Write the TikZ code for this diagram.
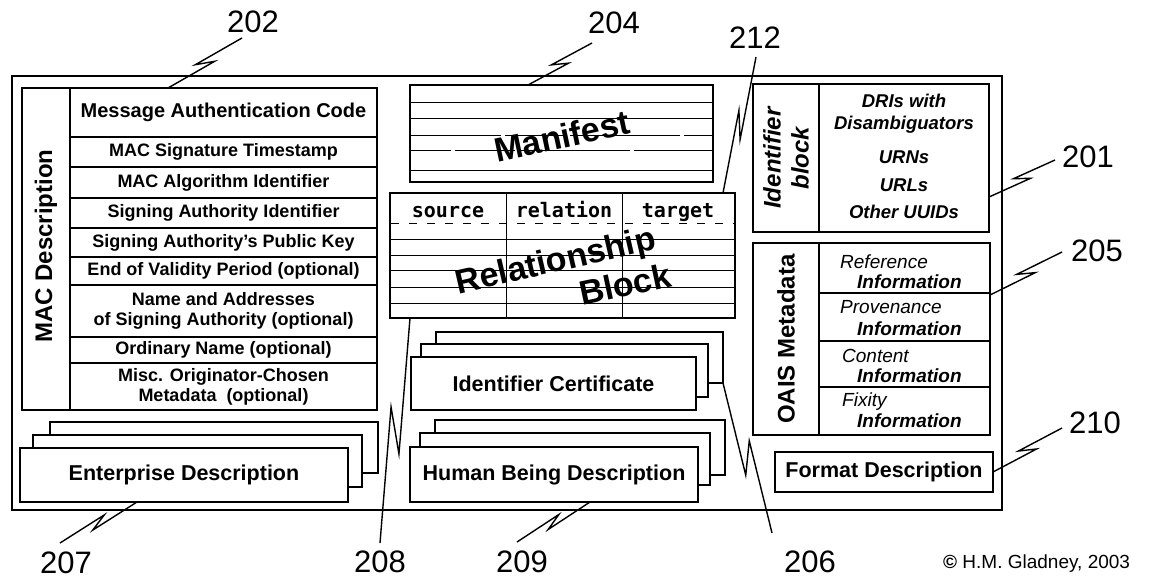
\documentclass[tikz,border=0pt]{standalone}
\usepackage{fontspec}
\setmainfont{Liberation Sans}
\newfontfamily\relmono{DejaVu Sans Mono}
\usetikzlibrary{calc}
\newcommand\rectnode[6]{\node[#1, anchor=north west, minimum width={#4-#2}, minimum height={#5-#3}] (#6) at (#2,#3)}
\newcommand\fs[2]{\fontsize{#1}{#2}\selectfont}
\begin{document}
\begin{tikzpicture}[x=1pt,y=-1pt,
  outerframe/.style={draw, line width=2.8pt, inner sep=0pt, outer sep=0pt},
  thick/.style={draw, line width=2.6pt, inner sep=0pt, outer sep=0pt},
  box/.style={thick, fill=white, font=\bfseries\fs{21.5}{24}},
  cell/.style={draw, line width=1.3pt, inner sep=0pt, outer sep=0pt, align=center, font=\bfseries\fs{18}{20}},
  ocell/.style={draw, line width=2pt, inner sep=0pt, outer sep=0pt},
  rule/.style={line width=1pt},
  drule/.style={line width=1pt, dash pattern=on 90pt off 4pt on 60pt off 5pt on 110pt off 4pt},
  big/.style={font=\bfseries\fs{34}{36}, inner sep=0pt},
  vlab/.style={rotate=90, font=\bfseries\fs{24}{28}, inner sep=0pt, align=center},
  ital/.style={font=\bfseries\itshape\fs{18.5}{22}, inner sep=0pt, align=center},
  oit/.style={font=\itshape\fs{19}{22}, inner sep=0pt, anchor=base west},
  oib/.style={font=\bfseries\itshape\fs{19}{22}, inner sep=0pt, anchor=base west},
  mono/.style={font=\relmono\bfseries\fs{20}{22}, inner sep=0pt, anchor=base},
  num/.style={font=\fs{31}{31}, inner sep=0pt},
  lead/.style={line width=1.4pt},
  zig/.style={to path={-- ($(\tikztostart)!0.6!(\tikztotarget)!#1!90:(\tikztotarget)$) -- ($(\tikztostart)!0.4!(\tikztotarget)!#1!-90:(\tikztotarget)$) -- (\tikztotarget)}},
]
\useasboundingbox (0,0) rectangle (1164,579);

% outer frame
\rectnode{outerframe}{12}{76}{1002}{510}{outer}{};

% MAC description
\rectnode{cell, font=\bfseries\fs{20}{22}}{70}{88}{377}{137}{mac1}{Message Authentication Code};
\rectnode{cell}{70}{137}{377}{167}{mac2}{MAC Signature Timestamp};
\rectnode{cell}{70}{167}{377}{198}{mac3}{MAC Algorithm Identifier};
\rectnode{cell}{70}{198}{377}{228}{mac4}{Signing Authority Identifier};
\rectnode{cell}{70}{228}{377}{257}{mac5}{Signing Authority’s Public Key};
\rectnode{cell}{70}{257}{377}{285}{mac6}{End of Validity Period (optional)};
\rectnode{cell}{70}{285}{377}{337}{mac7}{Name and Addresses\\of Signing Authority (optional)};
\rectnode{cell}{70}{337}{377}{363}{mac8}{Ordinary Name (optional)};
\rectnode{cell}{70}{363}{377}{410}{mac9}{Misc. Originator-Chosen\\Metadata\ \ (optional)};
\rectnode{thick}{22}{88}{70}{410}{macl}{};
\rectnode{thick}{22}{88}{377}{410}{mac}{};
\node[vlab] (mactitle) at (46,246) {MAC Description};

% Enterprise stack
\rectnode{box}{50}{422}{378}{473}{ent3}{};
\rectnode{box}{33}{435}{362}{487}{ent2}{};
\rectnode{box}{20}{448}{348}{502}{ent}{Enterprise Description};

% Manifest
\rectnode{thick}{410}{85}{713}{182}{man}{};
\draw[rule] (411,102) -- (712,102);
\draw[rule] (411,118) -- (712,118);
\draw[drule] (411,135) -- (712,135);
\draw[drule, dash phase=50pt] (411,150) -- (712,150);
\draw[rule] (411,170) -- (712,170);
\node[big, rotate=12] (manifest) at (562,136) {Manifest};

% Relationship block
\rectnode{thick}{390}{193}{735}{318}{rel}{};
\draw[rule] (506,194) -- (506,317);
\draw[rule] (622,194) -- (622,317);
\draw[rule, dash pattern=on 8pt off 10pt] (391,223) -- (734,223);
\foreach \yy in {239,255,270,287,303} \draw[rule] (391,\yy) -- (734,\yy);
\node[mono] (src) at (448,217) {source};
\node[mono] (rln) at (564,217) {relation};
\node[mono] (tgt) at (678,217) {target};
\node[big, rotate=13] (relw) at (556,263) {Relationship};
\node[big, rotate=12] (blockw) at (625,284) {Block};

% Identifier certificate stack
\rectnode{box}{436}{332}{723}{383}{ic3}{};
\rectnode{box}{421}{344}{708}{397}{ic2}{};
\rectnode{box}{411}{357}{696}{410}{ic}{Identifier Certificate};

% Human being stack
\rectnode{box}{435}{420}{725}{475}{hb3}{};
\rectnode{box}{420}{433}{710}{485}{hb2}{};
\rectnode{box}{410}{447}{698}{502}{hum}{Human Being Description};

% Identifier block
\rectnode{thick}{819}{84}{989}{232}{idr}{};
\rectnode{thick}{753}{84}{819}{232}{idl}{};
\node[vlab, font=\bfseries\itshape\fs{24}{28}] (idt) at (786,158) {Identifier\\block};
\node[ital] (dri) at (904,114) {DRIs with\\Disambiguators};
\node[ital] (urn) at (904,157) {URNs};
\node[ital] (url) at (904,185) {URLs};
\node[ital] (uuid) at (904,212) {Other UUIDs};

% OAIS metadata
\rectnode{ocell}{819}{243}{990}{293}{o1}{};
\rectnode{ocell}{819}{293}{990}{341}{o2}{};
\rectnode{ocell}{819}{341}{990}{387}{o3}{};
\rectnode{ocell}{819}{387}{990}{435}{o4}{};
\rectnode{thick}{753}{243}{819}{435}{oaisl}{};
\rectnode{thick}{753}{243}{990}{435}{oais}{};
\node[vlab] (oaist) at (786,339) {OAIS Metadata};
\node[oit] (t1) at (840,268) {Reference};
\node[oib] (i1) at (857,288) {Information};
\node[oit] (t2) at (840,313) {Provenance};
\node[oib] (i2) at (857,335) {Information};
\node[oit] (t3) at (842,362) {Content};
\node[oib] (i3) at (857,382) {Information};
\node[oit] (t4) at (842,406) {Fixity};
\node[oib] (i4) at (857,427) {Information};

% Format description
\rectnode{box}{775}{452}{993}{492}{fmt}{Format Description};

% reference numerals
\node[num] (n202) at (253,22) {202};
\node[num] (n204) at (614,23) {204};
\node[num] (n212) at (755,38) {212};
\node[num] (n201) at (1088,157) {201};
\node[num] (n205) at (1097,251) {205};
\node[num] (n210) at (1095,423) {210};
\node[num] (n207) at (66,563) {207};
\node[num] (n208) at (380,562) {208};
\node[num] (n209) at (522,562) {209};
\node[num] (n206) at (810,562) {206};
\node[font=\fs{19}{19}, anchor=base west, inner sep=0pt] (copy) at (943,568) {\textbf{©} H.M. Gladney, 2003};

% leader lines
\coordinate (s202) at (242,38);
\coordinate (s204) at (592,43);
\coordinate (s212) at (756,57);
\coordinate (s201) at (1055,160);
\coordinate (s205) at (1062,252);
\coordinate (s210) at (1062,428);
\coordinate (s207) at (60,543);
\coordinate (s208) at (380,543);
\coordinate (s209) at (517,542);
\coordinate (s206) at (772,533);
\draw[lead] (s202) to[zig=-4pt] ($(mac.north west)+(146,0)$);
\draw[lead] (s204) to[zig=-4pt] ($(man.north west)+(118,0)$);
\draw[lead] (s212) to[zig=4pt] ($(rel.north east)+(-12,0)$);
\draw[lead] (s201) to[zig=-4pt] ($(idr.north east)+(0,113)$);
\draw[lead] (s205) to[zig=-4pt] ($(oais.north east)+(0,52)$);
\draw[lead] (s210) to[zig=-4pt] ($(fmt.north east)+(0,20)$);
\draw[lead] (s207) to[zig=4pt] ($(ent.south west)+(117,0)$);
\draw[lead] (s208) to[zig=7pt] ($(rel.south west)+(20,0)$);
\draw[lead] (s209) to[zig=4pt] ($(hum.south west)+(180,0)$);
\draw[lead] (s206) to[zig=-7pt] (ic3.south east);
\end{tikzpicture}
\end{document}
